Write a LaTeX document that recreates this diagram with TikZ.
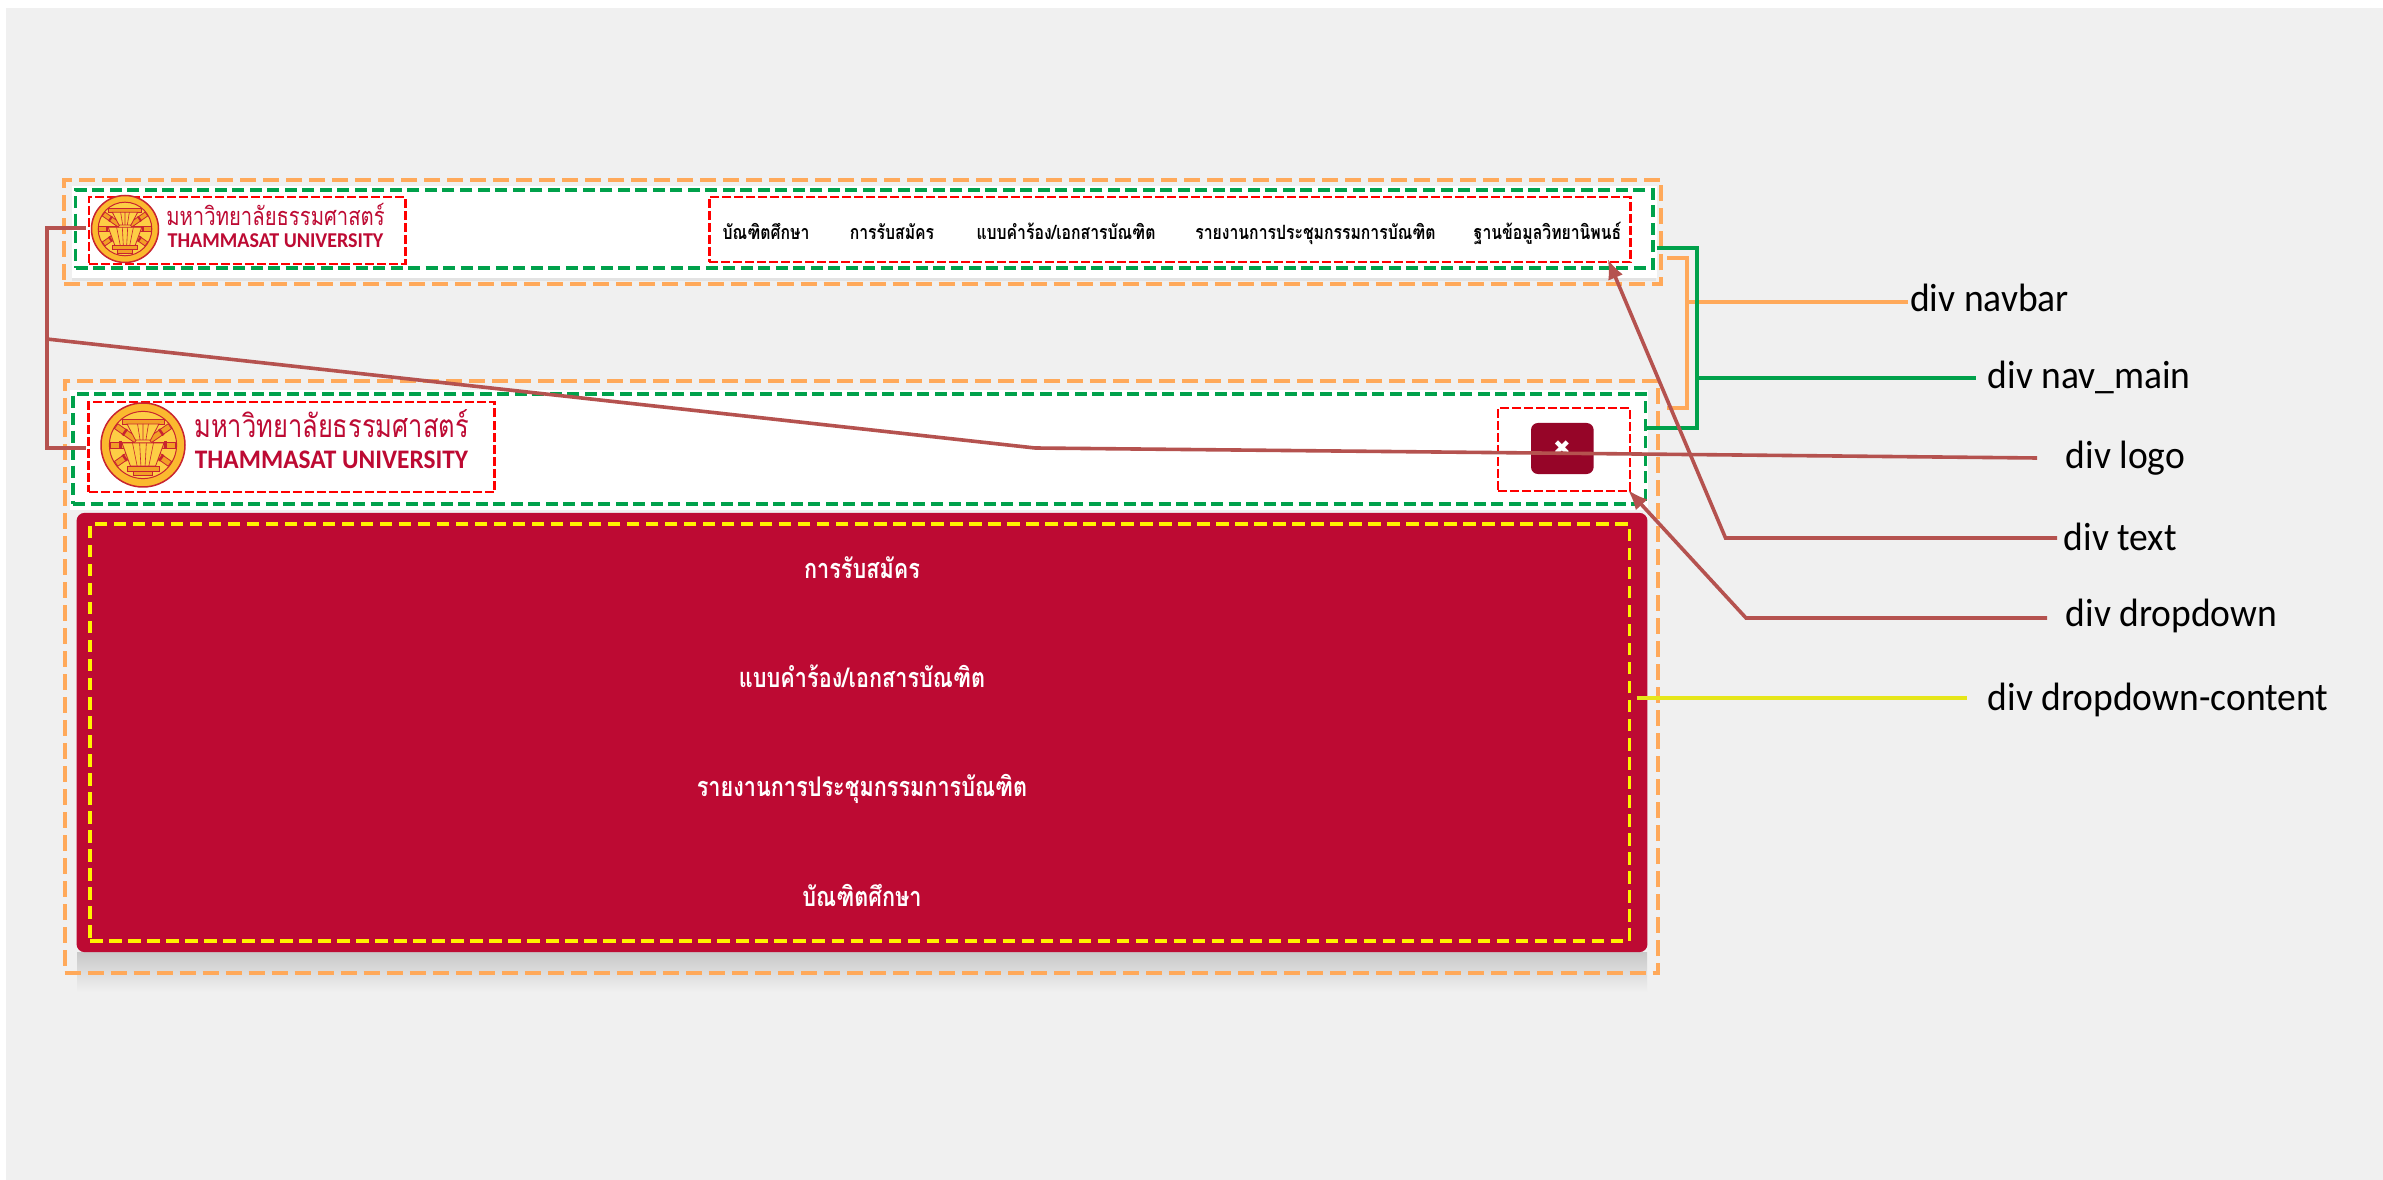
\documentclass[tikz,border=0pt]{standalone}
\usepackage{fontspec}
\usepackage{tikz}
\usetikzlibrary{arrows.meta,calc}
\newfontfamily\thaifont[Script=Thai,FakeStretch=0.8]{Loma}
\newfontfamily\labelfont[FakeStretch=0.95]{Carlito}
\newfontfamily\iconfont{DejaVu Sans}
\definecolor{bggray}{HTML}{F0F0F0}
\definecolor{shadowgray}{HTML}{C8C8C8}
\definecolor{navorange}{HTML}{FFA95A}
\definecolor{navgreen}{HTML}{00A14B}
\definecolor{tured}{HTML}{BD0A33}
\definecolor{turedd}{HTML}{960528}
\definecolor{linebrown}{HTML}{B5524F}
\definecolor{lineyellow}{HTML}{E6E619}
\definecolor{sealgold}{HTML}{FBB92F}
\definecolor{sealin}{HTML}{FDCE45}
\definecolor{sealred}{HTML}{C8242F}
\definecolor{sealmid}{HTML}{F29F26}
\tikzset{
  boxb/.style={rectangle,inner sep=0,outer sep=0},
  orangebox/.style={boxb,draw=navorange,line width=.04cm,dash pattern=on .16cm off .07cm},
  greenbox/.style={boxb,draw=navgreen,line width=.035cm,dash pattern=on .12cm off .055cm},
  redbox/.style={boxb,draw=red,line width=.028cm,dash pattern=on .09cm off .03cm},
  yellowbox/.style={boxb,draw=yellow,line width=.034cm,dash pattern=on .125cm off .065cm},
  whitebox/.style={boxb,fill=white},
  navitem/.style={inner sep=0,anchor=base,font=\thaifont\bfseries\fontsize{5.6}{6}\selectfont},
  menuitem/.style={inner sep=0,anchor=base,text=white,font=\thaifont\bfseries\fontsize{7.7}{8}\selectfont},
  divlabel/.style={inner sep=0,anchor=base west,font=\labelfont\fontsize{11.24}{13}\selectfont},
  connbrown/.style={draw=linebrown,line width=.036cm},
  connorange/.style={draw=navorange,line width=.036cm},
  conngreen/.style={draw=navgreen,line width=.036cm},
  seal/.pic={
    \draw[fill=sealgold,draw=sealred,line width=.15mm] (0,0) circle (1);
    \draw[fill=sealin,draw=sealred,line width=.1mm] (0,0) circle (.8);
    \foreach \ang in {0,35,145,180,215,325}{
      \draw[rotate=\ang,fill=sealmid,draw=sealred,line width=.08mm] (.2,-.07) rectangle (.78,.07);
      \draw[rotate=\ang,fill=sealred,draw=none] (.5,-.09) rectangle (.56,.09);
    }
    % upper lotus
    \draw[fill=sealmid,draw=sealred,line width=.08mm] (-.5,-.62) rectangle (.5,-.5);
    \draw[fill=sealin,draw=sealred,line width=.08mm] (-.38,-.5) -- (.38,-.5) -- (.18,-.12) -- (-.18,-.12) -- cycle;
    \draw[sealred,line width=.06mm] (-.13,-.5) -- (-.07,-.12) (.13,-.5) -- (.07,-.12) (0,-.5) -- (0,-.12);
    % lower lotus
    \draw[fill=sealin,draw=sealred,line width=.08mm] (-.5,-.05) -- (.5,-.05) -- (.3,.5) -- (-.3,.5) -- cycle;
    \draw[sealred,line width=.06mm] (-.25,-.05) -- (-.14,.5) (.25,-.05) -- (.14,.5) (-.08,-.05) -- (-.05,.5) (.08,-.05) -- (.05,.5);
    \draw[fill=sealmid,draw=sealred,line width=.08mm] (-.38,.5) rectangle (.38,.62);
    \draw[fill=sealmid,draw=sealred,line width=.08mm] (-.22,.62) rectangle (.22,.72);
  }
}
\begin{document}
\begin{tikzpicture}[x=.01cm,y=-.01cm]
\useasboundingbox (0,0) rectangle (2383,1180);
\fill[white] (0,0) rectangle (2383,1180);
\fill[bggray] (6,8) rectangle (2383,1180);

% panels
\node[whitebox,minimum width=15.845cm,minimum height=.92cm] (navbg) at (864.25,232) {};
\fill[shadowgray!50] (72,278) rectangle (1656,281);
\shade[top color=shadowgray,bottom color=bggray] (77,952) rectangle (1647,992);
\node[whitebox,minimum width=15.78cm,minimum height=1.2cm] (mainbg) at (859,450) {};
\node[boxb,fill=tured,rounded corners=.08cm,minimum width=15.7cm,minimum height=4.39cm] (panel) at (862,732.5) {};

% boxes
\node[orangebox,minimum width=15.965cm,minimum height=1.04cm] (navbarA) at (862.75,232) {};
\node[greenbox,minimum width=15.765cm,minimum height=.78cm] (navmainA) at (864.25,229) {};
\node[redbox,minimum width=3.16cm,minimum height=.67cm] (logoA) at (247,230.5) {};
\node[redbox,minimum width=9.205cm,minimum height=.65cm] (textA) at (1169.75,229.5) {};
\node[orangebox,minimum width=15.93cm,minimum height=5.92cm] (navbarB) at (861.5,677) {};
\node[greenbox,minimum width=15.715cm,minimum height=1.1cm] (navmainB) at (859.25,449) {};
\node[redbox,minimum width=4.055cm,minimum height=.9cm] (logoB) at (291.75,447) {};
\node[redbox,minimum width=1.32cm,minimum height=.83cm] (dropA) at (1564,449.5) {};
\node[yellowbox,minimum width=15.385cm,minimum height=4.17cm] (content) at (859.75,732.5) {};

% logos
\pic[scale=33.5] at (125,229) {seal};
\node[inner sep=0,anchor=base,text=tured,font=\thaifont\fontsize{7.2}{8}\selectfont] (thaiA) at (275.5,226) {มหาวิทยาลัยธรรมศาสตร์};
\node[inner sep=0,anchor=base,text=tured,font=\labelfont\bfseries\fontsize{6}{7}\selectfont] (engA) at (275.5,248) {THAMMASAT UNIVERSITY};
\pic[scale=42] at (143,445) {seal};
\node[inner sep=0,anchor=base,text=tured,font=\thaifont\fontsize{9.05}{10}\selectfont] (thaiB) at (331.5,438) {มหาวิทยาลัยธรรมศาสตร์};
\node[inner sep=0,anchor=base,text=tured,font=\labelfont\bfseries\fontsize{7.6}{8}\selectfont] (engB) at (331.5,469) {THAMMASAT UNIVERSITY};

% nav text
\node[navitem] (navA) at (766,240) {บัณฑิตศึกษา};
\node[navitem] (navB) at (892,240) {การรับสมัคร};
\node[navitem] (navC) at (1066,240) {แบบคำร้อง/เอกสารบัณฑิต};
\node[navitem] (navD) at (1315.5,240) {รายงานการประชุมกรรมการบัณฑิต};
\node[navitem] (navE) at (1547.5,240) {ฐานข้อมูลวิทยานิพนธ์};

% button
\node[boxb,fill=turedd,rounded corners=.07cm,minimum width=.626cm,minimum height=.51cm] (btn) at (1562.3,448.5) {};
\node[inner sep=0,text=white,font=\iconfont\fontsize{6}{7}\selectfont] (btnx) at (1562,448) {✖};

% dropdown text
\node[menuitem] (menuA) at (862,578.5) {การรับสมัคร};
\node[menuitem] (menuB) at (862,687.5) {แบบคำร้อง/เอกสารบัณฑิต};
\node[menuitem] (menuC) at (862,796.5) {รายงานการประชุมกรรมการบัณฑิต};
\node[menuitem] (menuD) at (862,906.5) {บัณฑิตศึกษา};

% labels
\node[divlabel] (lblNavbar) at (1909.5,311.5) {div navbar};
\node[divlabel] (lblMain) at (1987,388.5) {div nav\_main};
\node[divlabel] (lblLogo) at (2065,468.5) {div logo};
\node[divlabel] (lblText) at (2063,550.5) {div text};
\node[divlabel] (lblDrop) at (2065,626.5) {div dropdown};
\node[divlabel] (lblContent) at (1987,710.5) {div dropdown-content};

% orange bracket
\coordinate (oa) at (1667,258);
\coordinate (ob) at (1687,258);
\coordinate (oc) at (1687,408);
\coordinate (od) at (1667,408);
\coordinate (oe) at (1687,302);
\coordinate (of) at (1908,302);
\draw[connorange] (oa) -- (ob) -- (oc) -- (od);
\draw[connorange] (oe) -- (of);

% green bracket
\coordinate (ga) at (1656.5,248);
\coordinate (gb) at (1697,248);
\coordinate (gc) at (1697,428);
\coordinate (gd) at (1645,428);
\coordinate (ge) at (1697,378);
\coordinate (gf) at (1976,378);
\draw[conngreen] (ga) -- (gb) -- (gc) -- (gd);
\draw[conngreen] (ge) -- (gf);

% logo lines
\coordinate (la) at (86,228);
\coordinate (lb) at (46.7,228);
\coordinate (lc) at (46.7,448);
\coordinate (ld) at (86,448);
\coordinate (le) at (46.7,339);
\coordinate (lf) at (1035,448);
\coordinate (lg) at (2037,458);
\draw[connbrown] (la) -- (lb) -- (lc) -- (ld);
\draw[connbrown] (le) -- (lf) -- (lg);

% arrows
\coordinate (ta) at (1607.7,259);
\coordinate (tb) at (1725.5,538);
\coordinate (tc) at (2057,538);
\draw[connbrown,{Latex[length=.2cm,width=.16cm]}-] (ta) -- (tb) -- (tc);
\coordinate (da) at (1628,490);
\coordinate (db) at (1746,618);
\coordinate (dc) at (2047,618);
\draw[connbrown,{Latex[length=.2cm,width=.16cm]}-] (da) -- (db) -- (dc);
\coordinate (ya) at (1636.6,698);
\coordinate (yb) at (1966.6,698);
\draw[draw=lineyellow,line width=.036cm] (ya) -- (yb);

\end{tikzpicture}
\end{document}
